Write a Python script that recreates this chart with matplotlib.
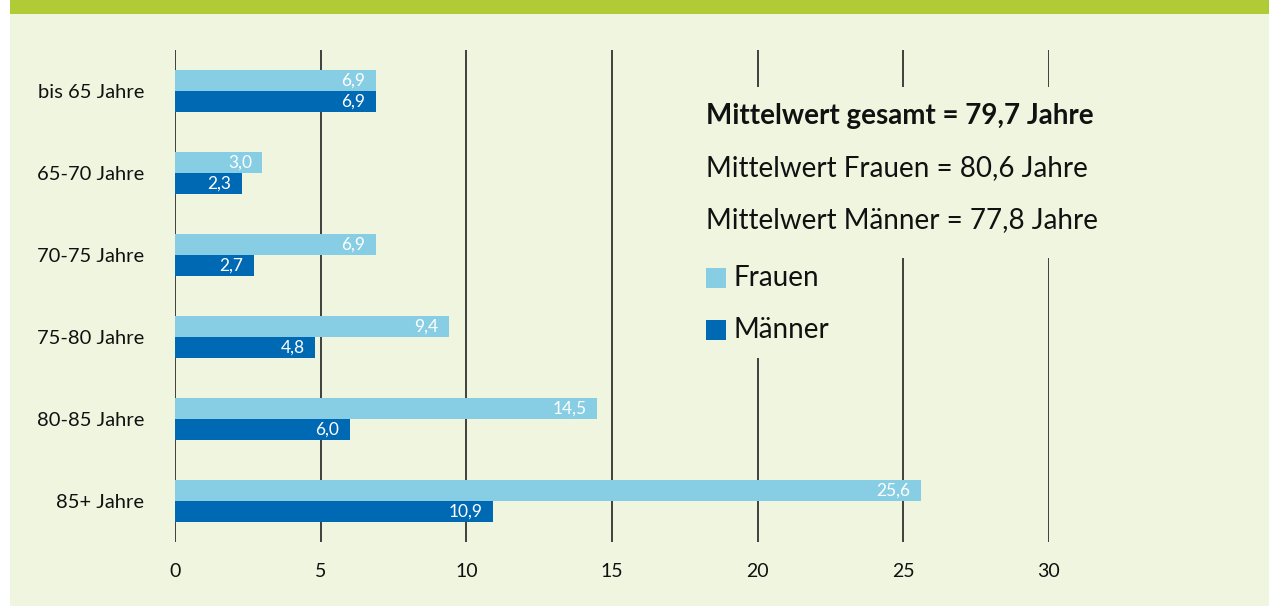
import matplotlib
matplotlib.use("Agg")
import matplotlib.pyplot as plt
from matplotlib.patches import Rectangle
import numpy as np

plt.rcParams["font.family"] = ["Lato", "DejaVu Sans"]

categories = ["bis 65 Jahre", "65-70 Jahre", "70-75 Jahre",
              "75-80 Jahre", "80-85 Jahre", "85+ Jahre"]
frauen = [6.9, 3.0, 6.9, 9.4, 14.5, 25.6]
maenner = [6.9, 2.3, 2.7, 4.8, 6.0, 10.9]
xticks = [0, 5, 10, 15, 20, 25, 30]
info_lines = ["Mittelwert gesamt = 79,7 Jahre",
              "Mittelwert Frauen = 80,6 Jahre",
              "Mittelwert Männer = 77,8 Jahre"]
legend_labels = ["Frauen", "Männer"]

C_BG = "#F0F5DF"
C_TOP = "#B0CB35"
C_F = "#87CEE4"
C_M = "#0069B4"
C_GRID = "#222222"

W, H = 1269, 606
fig = plt.figure(figsize=(W / 100, H / 100), dpi=100, facecolor="white")

# full-figure overlay in pixel coords: background panel and green header strip
ax_bg = fig.add_axes([0, 0, 1, 1], zorder=-2)
ax_bg.set_xlim(0, W)
ax_bg.set_ylim(H, 0)
ax_bg.axis("off")
ax_bg.add_patch(Rectangle((10, 14), W - 10, H - 14, facecolor=C_BG, edgecolor="none"))
ax_bg.add_patch(Rectangle((10, 0), W - 10, 14, facecolor=C_TOP, edgecolor="none"))

ax = fig.add_axes([175 / W, 1 - 542 / H, (1049 - 175) / W, (542 - 50) / H], zorder=0)
ax.set_facecolor("none")

y = np.arange(len(categories))
h = 0.26
ax.barh(y - h / 2, frauen, height=h, color=C_F, zorder=3)
ax.barh(y + h / 2, maenner, height=h, color=C_M, zorder=3)

for yi, v in zip(y, frauen):
    ax.annotate(f"{v:.1f}".replace(".", ","), (v, yi - h / 2), xytext=(-7.5, 0),
                textcoords="offset points", ha="right", va="center",
                color="white", fontsize=12.5, zorder=4)
for yi, v in zip(y, maenner):
    ax.annotate(f"{v:.1f}".replace(".", ","), (v, yi + h / 2), xytext=(-7.5, 0),
                textcoords="offset points", ha="right", va="center",
                color="white", fontsize=12.5, zorder=4)

for t in xticks:
    ax.axvline(t, color=C_GRID, lw=1.2, zorder=1)

ax.set_xlim(0, 30)
ax.set_ylim(len(categories) - 0.5, -0.5)
ax.set_xticks(xticks)
ax.set_xticklabels([str(t) for t in xticks])
ax.set_yticks(y)
ax.set_yticklabels(categories)
ax.tick_params(axis="x", length=0, pad=15, labelsize=14, colors="#111111")
ax.tick_params(axis="y", length=0, pad=22, labelsize=14.5, colors="#111111")
for s in ax.spines.values():
    s.set_visible(False)

# box behind the info text, hiding the gridlines
ax2 = fig.add_axes([0, 0, 1, 1], facecolor="none", zorder=2)
ax2.set_xlim(0, W)
ax2.set_ylim(H, 0)
ax2.axis("off")
ax2.add_patch(Rectangle((692, 87), 420, 171, facecolor=C_BG, edgecolor="none"))
ax2.add_patch(Rectangle((692, 258), 150, 100, facecolor=C_BG, edgecolor="none"))

for i, line in enumerate(info_lines):
    ax2.text(706, 116 + 52 * i, line, ha="left", va="center", fontsize=20,
             color="#111111", fontweight="bold" if i == 0 else "normal")

for i, (lab, col) in enumerate(zip(legend_labels, [C_F, C_M])):
    yc = 278 + 52 * i
    ax2.add_patch(Rectangle((706, yc - 10), 20, 20, facecolor=col, edgecolor="none"))
    ax2.text(733, yc, lab, ha="left", va="center", fontsize=20, color="#111111")

fig.savefig("out.png", dpi=100, facecolor=fig.get_facecolor())
